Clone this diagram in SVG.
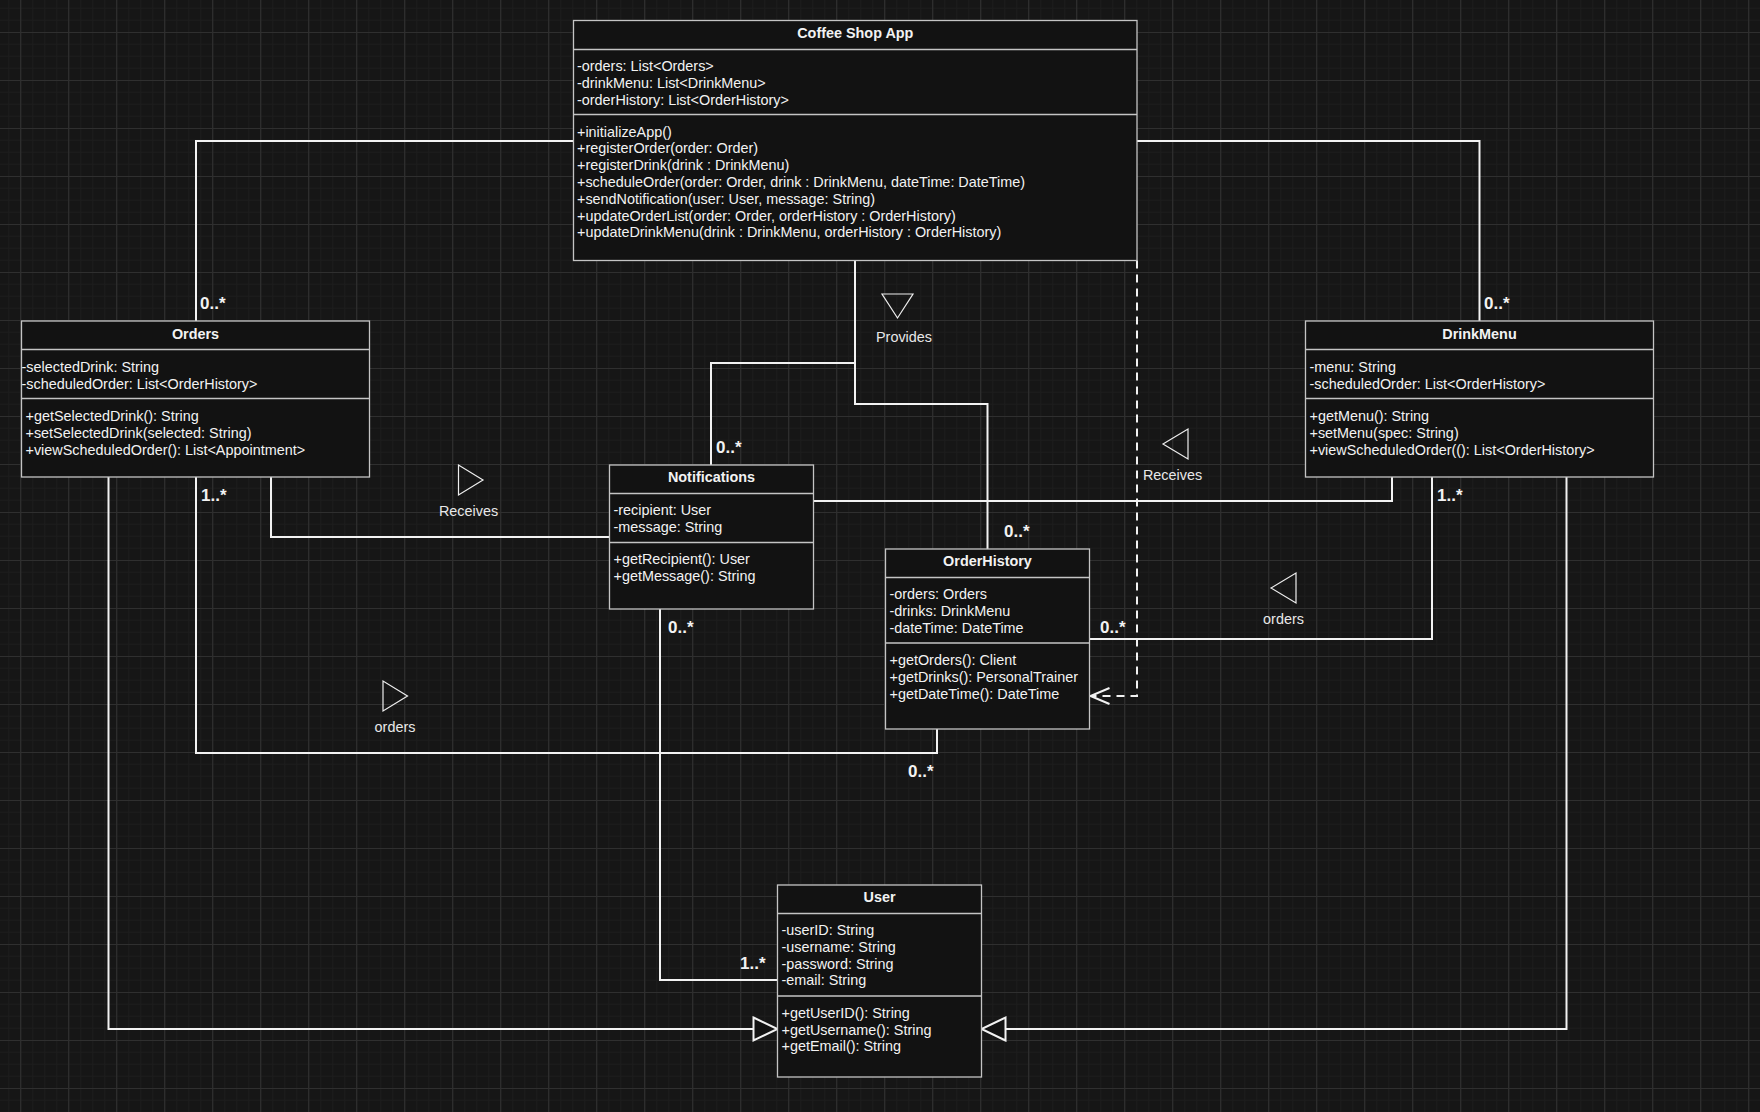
<svg xmlns="http://www.w3.org/2000/svg" width="1760" height="1112" viewBox="0 0 1760 1112">
<style>
.box{fill:#121212;stroke:#c4c4c4;stroke-width:1.3}
.sep{stroke:#c4c4c4;stroke-width:1.3;fill:none}
.t{font-family:"Liberation Sans",Arial,Helvetica,sans-serif;font-size:14.4px;fill:#f2f2f2}
.ttl{font-family:"Liberation Sans",Arial,Helvetica,sans-serif;font-size:14.4px;font-weight:bold;fill:#f2f2f2;text-anchor:middle}
.mult{font-family:"Liberation Sans",Arial,Helvetica,sans-serif;font-size:17px;font-weight:bold;fill:#f2f2f2}
.lbl{font-family:"Liberation Sans",Arial,Helvetica,sans-serif;font-size:14.4px;fill:#e8e8e8;text-anchor:middle}
.conn{fill:none;stroke:#f2f2f2;stroke-width:2}
.dash{stroke-dasharray:8 6}
.deco{fill:none;stroke:#eeeeee;stroke-width:1.2;stroke-linejoin:miter}
</style>
<defs>
<pattern id="grid" width="48" height="48" patternUnits="userSpaceOnUse" x="20" y="32">
<rect width="48" height="48" fill="#161616"/>
<path d="M12.7 0V48M24.7 0V48M36.7 0V48M0 12.3H48M0 24.3H48M0 36.3H48" stroke="#1c1c1c" stroke-width="1"/>
<path d="M0.7 0V48M0 0.3H48" stroke="#2f2f2f" stroke-width="1.2"/>
</pattern>
<marker id="inherit" markerUnits="userSpaceOnUse" markerWidth="30" markerHeight="30" refX="24" refY="11.5" orient="auto" overflow="visible">
<path d="M0,0 L24,11.5 L0,23 Z" fill="#121212" stroke="#f2f2f2" stroke-width="2" stroke-dasharray="none"/>
</marker>
<marker id="open" markerUnits="userSpaceOnUse" markerWidth="24" markerHeight="20" refX="19" refY="8" orient="auto" overflow="visible">
<path d="M0,0 L19,8 L0,16" fill="none" stroke="#f2f2f2" stroke-width="2" stroke-dasharray="none"/>
</marker>
</defs>
<rect width="1760" height="1112" fill="url(#grid)"/>

<g id="connectors">
<path class="conn" d="M573.5,141 H196 V321"/>
<path class="conn" d="M1137,141 H1479.5 V321"/>
<path class="conn" d="M855,260.5 V404 H987.5 V549"/>
<path class="conn" d="M855,363 H711 V465"/>
<path class="conn" d="M271,477 V537 H609.5"/>
<path class="conn" d="M196,477 V753 H937 V729"/>
<path class="conn" d="M660,609 V980 H777.5"/>
<path class="conn" d="M1392,477 V501 H813.5"/>
<path class="conn" d="M1432,477 V639 H1089.5"/>
<path class="conn dash" d="M1137,260.5 V696 H1090.5" marker-end="url(#open)"/>
<path class="conn" d="M108.5,477 V1029 H777.5" marker-end="url(#inherit)"/>
<path class="conn" d="M1566.5,477 V1029 H981.5" marker-end="url(#inherit)"/>

<path class="deco" d="M882,294 L913,294 L897.5,318 Z"/>
<path class="deco" d="M458.5,465 L458.5,495 L483,480 Z"/>
<path class="deco" d="M1188,429 L1188,459 L1163,444 Z"/>
<path class="deco" d="M1296,573 L1296,603 L1271,588 Z"/>
<path class="deco" d="M383,681 L383,711 L407.5,696 Z"/>

<text class="lbl" x="904" y="342">Provides</text>
<text class="lbl" x="468.5" y="516">Receives</text>
<text class="lbl" x="1172.5" y="480">Receives</text>
<text class="lbl" x="1283.5" y="624">orders</text>
<text class="lbl" x="395" y="732">orders</text>

<text class="mult" x="200" y="308.7">0..*</text>
<text class="mult" x="1484" y="309">0..*</text>
<text class="mult" x="201" y="501">1..*</text>
<text class="mult" x="1437" y="501">1..*</text>
<text class="mult" x="716" y="453">0..*</text>
<text class="mult" x="1004" y="537">0..*</text>
<text class="mult" x="668" y="633">0..*</text>
<text class="mult" x="1100" y="633">0..*</text>
<text class="mult" x="908" y="777">0..*</text>
<text class="mult" x="740" y="969">1..*</text>
</g>

<g id="coffee-shop-app">
<rect class="box" x="573.5" y="20.5" width="563.5" height="240"/>
<path class="sep" d="M573.5,49.5 H1137 M573.5,114.5 H1137"/>
<text class="ttl" x="855.3" y="37.5">Coffee Shop App</text>
<text class="t" x="577" y="71">-orders: List&lt;Orders&gt;</text>
<text class="t" x="577" y="88">-drinkMenu: List&lt;DrinkMenu&gt;</text>
<text class="t" x="577" y="105">-orderHistory: List&lt;OrderHistory&gt;</text>
<text class="t" x="577" y="136.5">+initializeApp()</text>
<text class="t" x="577" y="153.3">+registerOrder(order: Order)</text>
<text class="t" x="577" y="170.1">+registerDrink(drink : DrinkMenu)</text>
<text class="t" x="577" y="186.9">+scheduleOrder(order: Order, drink : DrinkMenu, dateTime: DateTime)</text>
<text class="t" x="577" y="203.7">+sendNotification(user: User, message: String)</text>
<text class="t" x="577" y="220.5">+updateOrderList(order: Order, orderHistory : OrderHistory)</text>
<text class="t" x="577" y="237.3">+updateDrinkMenu(drink : DrinkMenu, orderHistory : OrderHistory)</text>
</g>

<g id="orders">
<rect class="box" x="21.5" y="321" width="348" height="156"/>
<path class="sep" d="M21.5,349.5 H369.5 M21.5,398.5 H369.5"/>
<text class="ttl" x="195.5" y="338.5">Orders</text>
<text class="t" x="21.5" y="371.5">-selectedDrink: String</text>
<text class="t" x="21.5" y="388.5">-scheduledOrder: List&lt;OrderHistory&gt;</text>
<text class="t" x="25.5" y="420.5">+getSelectedDrink(): String</text>
<text class="t" x="25.5" y="437.5">+setSelectedDrink(selected: String)</text>
<text class="t" x="25.5" y="454.5">+viewScheduledOrder(): List&lt;Appointment&gt;</text>
</g>

<g id="drink-menu">
<rect class="box" x="1305.5" y="321" width="348" height="156"/>
<path class="sep" d="M1305.5,349.5 H1653.5 M1305.5,398.5 H1653.5"/>
<text class="ttl" x="1479.5" y="338.5">DrinkMenu</text>
<text class="t" x="1309.5" y="371.5">-menu: String</text>
<text class="t" x="1309.5" y="388.5">-scheduledOrder: List&lt;OrderHistory&gt;</text>
<text class="t" x="1309.5" y="420.5">+getMenu(): String</text>
<text class="t" x="1309.5" y="437.5">+setMenu(spec: String)</text>
<text class="t" x="1309.5" y="454.5">+viewScheduledOrder((): List&lt;OrderHistory&gt;</text>
</g>

<g id="notifications">
<rect class="box" x="609.5" y="465" width="204" height="144"/>
<path class="sep" d="M609.5,493.5 H813.5 M609.5,542.5 H813.5"/>
<text class="ttl" x="711.5" y="481.7">Notifications</text>
<text class="t" x="613.5" y="515">-recipient: User</text>
<text class="t" x="613.5" y="532">-message: String</text>
<text class="t" x="613.5" y="564">+getRecipient(): User</text>
<text class="t" x="613.5" y="581">+getMessage(): String</text>
</g>

<g id="order-history">
<rect class="box" x="885.5" y="549" width="204" height="180"/>
<path class="sep" d="M885.5,577.5 H1089.5 M885.5,643 H1089.5"/>
<text class="ttl" x="987.5" y="566">OrderHistory</text>
<text class="t" x="889.5" y="599">-orders: Orders</text>
<text class="t" x="889.5" y="615.8">-drinks: DrinkMenu</text>
<text class="t" x="889.5" y="632.6">-dateTime: DateTime</text>
<text class="t" x="889.5" y="665">+getOrders(): Client</text>
<text class="t" x="889.5" y="681.8">+getDrinks(): PersonalTrainer</text>
<text class="t" x="889.5" y="698.6">+getDateTime(): DateTime</text>
</g>

<g id="user">
<rect class="box" x="777.5" y="885" width="204" height="192"/>
<path class="sep" d="M777.5,913.5 H981.5 M777.5,996 H981.5"/>
<text class="ttl" x="879.5" y="901.7">User</text>
<text class="t" x="781.5" y="935.3">-userID: String</text>
<text class="t" x="781.5" y="952.2">-username: String</text>
<text class="t" x="781.5" y="968.6">-password: String</text>
<text class="t" x="781.5" y="985.2">-email: String</text>
<text class="t" x="781.5" y="1018.3">+getUserID(): String</text>
<text class="t" x="781.5" y="1034.6">+getUsername(): String</text>
<text class="t" x="781.5" y="1051.2">+getEmail(): String</text>
</g>
</svg>
